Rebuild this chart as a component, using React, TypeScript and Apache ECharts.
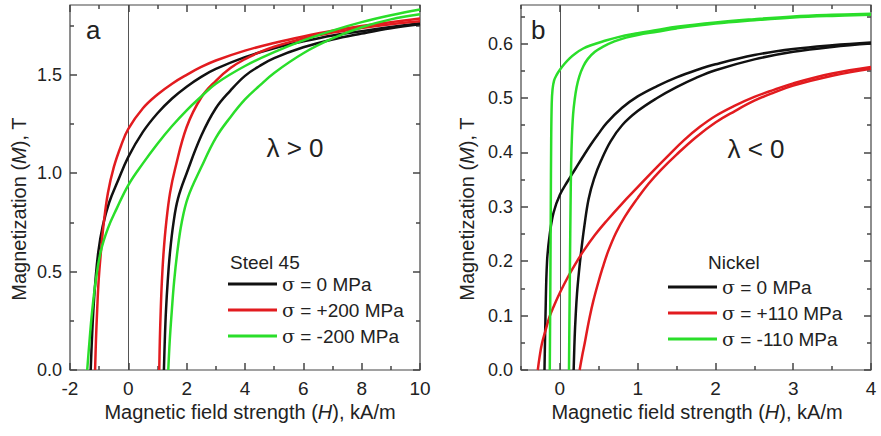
import React, { useEffect, useRef } from "react";
import * as echarts from "echarts";

// ---- Panel a: Steel 45 — [H (kA/m), M (T)]; "Desc" = descending branch, "Asc" = ascending branch
const steelZeroDesc: number[][] = [
  [-1.29, 0], [-1.25, 0.15], [-1.2, 0.3], [-1.13, 0.45], [-1.03, 0.6], [-0.88, 0.73], [-0.66, 0.85],
  [-0.36, 0.96], [0, 1.083], [0.5, 1.21], [1.0, 1.305], [1.5, 1.38], [2.0, 1.44], [2.5, 1.49], [3.0, 1.53],
  [4.0, 1.59], [5.0, 1.635], [6.0, 1.67], [7.0, 1.7], [8.0, 1.722], [9.0, 1.743], [10, 1.762],
];
const steelZeroAsc: number[][] = [
  [1.22, 0], [1.25, 0.15], [1.29, 0.3], [1.35, 0.45], [1.43, 0.6], [1.55, 0.75], [1.7, 0.87], [2.0, 1.0],
  [2.5, 1.19], [3.0, 1.33], [3.5, 1.42], [4.0, 1.495], [4.5, 1.545], [5.0, 1.585], [6.0, 1.64], [7.0, 1.68],
  [8.0, 1.71], [9.0, 1.737], [10, 1.757],
];
const steelPlus200Desc: number[][] = [
  [-1.14, 0], [-1.11, 0.15], [-1.07, 0.3], [-1.02, 0.45], [-0.94, 0.6], [-0.84, 0.75], [-0.7, 0.9],
  [-0.5, 1.03], [-0.25, 1.14], [0, 1.225], [0.5, 1.33], [1.0, 1.4], [1.5, 1.455], [2.0, 1.5], [2.5, 1.54],
  [3.0, 1.573], [4.0, 1.623], [5.0, 1.662], [6.0, 1.695], [7.0, 1.724], [8.0, 1.748], [9.0, 1.768], [10, 1.786],
];
const steelPlus200Asc: number[][] = [
  [1.06, 0], [1.08, 0.15], [1.11, 0.3], [1.15, 0.45], [1.21, 0.6], [1.3, 0.75], [1.43, 0.9], [1.6, 1.02],
  [2.0, 1.235], [2.5, 1.385], [3.0, 1.47], [3.5, 1.535], [4.0, 1.58], [4.5, 1.615], [5.0, 1.643], [6.0, 1.685],
  [7.0, 1.715], [8.0, 1.738], [9.0, 1.757], [10, 1.772],
];
const steelMinus200Desc: number[][] = [
  [-1.41, 0], [-1.33, 0.15], [-1.24, 0.3], [-1.12, 0.45], [-0.95, 0.6], [-0.7, 0.72], [-0.4, 0.82], [0, 0.94],
  [0.5, 1.05], [1.0, 1.15], [1.5, 1.24], [2.0, 1.32], [2.5, 1.39], [3.0, 1.455], [4.0, 1.545], [5.0, 1.615],
  [6.0, 1.675], [7.0, 1.725], [8.0, 1.768], [9.0, 1.803], [10, 1.832],
];
const steelMinus200Asc: number[][] = [
  [1.37, 0], [1.42, 0.15], [1.49, 0.3], [1.57, 0.45], [1.68, 0.6], [1.83, 0.75], [2.05, 0.88], [2.5, 1.03],
  [3.0, 1.18], [3.5, 1.285], [4.0, 1.375], [4.5, 1.445], [5.0, 1.51], [6.0, 1.61], [7.0, 1.685], [8.0, 1.742],
  [9.0, 1.782], [10, 1.808],
];

// ---- Panel b: Nickel
const nickelZeroDesc: number[][] = [
  [-0.198, 0], [-0.185, 0.1], [-0.165, 0.2], [-0.13, 0.25], [-0.08, 0.29], [0, 0.322], [0.1, 0.347],
  [0.2, 0.37], [0.3, 0.393], [0.4, 0.415], [0.5, 0.435], [0.6, 0.454], [0.8, 0.482], [1.0, 0.503],
  [1.25, 0.522], [1.5, 0.538], [1.75, 0.551], [2.0, 0.562], [2.5, 0.579], [3.0, 0.59], [3.5, 0.597], [4, 0.602],
];
const nickelZeroAsc: number[][] = [
  [0.177, 0], [0.19, 0.06], [0.203, 0.1], [0.22, 0.14], [0.245, 0.18], [0.276, 0.221], [0.315, 0.265],
  [0.37, 0.315], [0.44, 0.352], [0.53, 0.385], [0.65, 0.42], [0.8, 0.45], [1.0, 0.476], [1.25, 0.5],
  [1.5, 0.52], [1.75, 0.537], [2.0, 0.551], [2.5, 0.571], [3.0, 0.585], [3.5, 0.594], [4, 0.6],
];
const nickelPlus110Desc: number[][] = [
  [-0.284, 0], [-0.26, 0.025], [-0.23, 0.049], [-0.18, 0.075], [-0.133, 0.098], [-0.07, 0.12], [0, 0.142],
  [0.1, 0.17], [0.2, 0.195], [0.3, 0.218], [0.45, 0.248], [0.6, 0.274], [0.8, 0.306], [1.0, 0.336],
  [1.2, 0.366], [1.4, 0.395], [1.6, 0.423], [1.8, 0.447], [2.0, 0.467], [2.25, 0.486], [2.5, 0.502],
  [2.75, 0.515], [3.0, 0.527], [3.5, 0.545], [4, 0.557],
];
const nickelPlus110Asc: number[][] = [
  [0.254, 0], [0.285, 0.025], [0.319, 0.049], [0.35, 0.073], [0.384, 0.098], [0.43, 0.127], [0.49, 0.159],
  [0.55, 0.188], [0.62, 0.218], [0.72, 0.252], [0.836, 0.282], [1.0, 0.316], [1.137, 0.342], [1.3, 0.368],
  [1.5, 0.396], [1.75, 0.428], [2.0, 0.455], [2.25, 0.476], [2.5, 0.495], [2.75, 0.51], [3.0, 0.523],
  [3.5, 0.541], [4, 0.554],
];
const nickelMinus110Desc: number[][] = [
  [-0.13, 0], [-0.123, 0.15], [-0.117, 0.3], [-0.112, 0.42], [-0.105, 0.49], [-0.095, 0.515], [-0.075, 0.532],
  [-0.04, 0.543], [0, 0.552], [0.06, 0.563], [0.125, 0.573], [0.2, 0.582], [0.3, 0.591], [0.4, 0.597],
  [0.55, 0.604], [0.75, 0.612], [1.0, 0.619], [1.25, 0.625], [1.5, 0.631], [2.0, 0.639], [2.5, 0.645],
  [3.0, 0.65], [3.5, 0.653], [4, 0.655],
];
const nickelMinus110Asc: number[][] = [
  [0.117, 0], [0.123, 0.1], [0.13, 0.2], [0.137, 0.3], [0.145, 0.38], [0.155, 0.43], [0.17, 0.47],
  [0.19, 0.497], [0.215, 0.52], [0.25, 0.54], [0.3, 0.558], [0.36, 0.572], [0.45, 0.585], [0.55, 0.594],
  [0.7, 0.604], [0.85, 0.611], [1.0, 0.616], [1.25, 0.622], [1.5, 0.628], [2.0, 0.637], [2.5, 0.643],
  [3.0, 0.648], [3.5, 0.651], [4, 0.653],
];

const steelNames = ["σ = 0 MPa", "σ = +200 MPa", "σ = -200 MPa"];
const nickelNames = ["σ = 0 MPa", "σ = +110 MPa", "σ = -110 MPa"];

// ---- Tick values (major ticks carry labels)
const steelXTicks = [-2, 0, 2, 4, 6, 8, 10];
const steelXMinor = [-1, 1, 3, 5, 7, 9];
const steelYTicks = [0, 0.5, 1.0, 1.5];
const steelYMinor = [0.25, 0.75, 1.25, 1.75];
const nickelXTicks = [0, 1, 2, 3, 4];
const nickelXMinor = [-0.5, 0.5, 1.5, 2.5, 3.5];
const nickelYTicks = [0, 0.1, 0.2, 0.3, 0.4, 0.5, 0.6];
const nickelYMinor = [0.05, 0.15, 0.25, 0.35, 0.45, 0.55, 0.65];

const FONT = "'Liberation Sans', Arial, Helvetica, sans-serif";
const TEXT = "#222";
const AXIS = "#444";
const BLACK = "#111111";
const RED = "#e21b1f";
const GREEN = "#2ade2a";

const GRID_W = 350;
const GRID_H = 365;
const RANGES = [
  { xMin: -2, xMax: 10, yMin: 0, yMax: 1.855 },
  { xMin: -0.5, xMax: 4, yMin: 0, yMax: 0.671 },
];
const TICKS = [
  { xMajor: steelXTicks, xMinor: steelXMinor, yMajor: steelYTicks, yMinor: steelYMinor },
  { xMajor: nickelXTicks, xMinor: nickelXMinor, yMajor: nickelYTicks, yMinor: nickelYMinor },
];

function xAxisFor(panel: number, labels: number[], fmt: (v: number) => string) {
  const r = RANGES[panel];
  return {
    type: "value",
    gridIndex: panel,
    min: r.xMin,
    max: r.xMax,
    position: "bottom",
    splitLine: { show: false },
    axisLine: { show: false },
    axisTick: { show: false },
    axisLabel: {
      show: true,
      customValues: labels.slice(),
      formatter: fmt,
      fontSize: 19,
      color: TEXT,
      fontFamily: FONT,
      margin: 9,
    },
  };
}
function yAxisFor(panel: number, labels: number[], fmt: (v: number) => string) {
  const r = RANGES[panel];
  return {
    type: "value",
    gridIndex: panel,
    min: r.yMin,
    max: r.yMax,
    position: "left",
    splitLine: { show: false },
    axisLine: { show: false },
    axisTick: { show: false },
    axisLabel: {
      show: true,
      customValues: labels.slice(),
      formatter: fmt,
      fontSize: 18,
      color: TEXT,
      fontFamily: FONT,
      margin: 8,
    },
  };
}

// Inward tick segments on all four sides, expressed in data coordinates of the panel's axes
function tickSegments(panel: number) {
  const r = RANGES[panel];
  const t = TICKS[panel];
  const dyPerPx = (r.yMax - r.yMin) / GRID_H;
  const dxPerPx = (r.xMax - r.xMin) / GRID_W;
  const segs: any[] = [];
  const addX = (vals: number[], len: number) =>
    vals.forEach((v) => {
      segs.push([{ coord: [v, r.yMin] }, { coord: [v, r.yMin + len * dyPerPx] }]);
      segs.push([{ coord: [v, r.yMax] }, { coord: [v, r.yMax - len * dyPerPx] }]);
    });
  const addY = (vals: number[], len: number) =>
    vals.forEach((v) => {
      segs.push([{ coord: [r.xMin, v] }, { coord: [r.xMin + len * dxPerPx, v] }]);
      segs.push([{ coord: [r.xMax, v] }, { coord: [r.xMax - len * dxPerPx, v] }]);
    });
  addX(t.xMajor, 7);
  addX(t.xMinor, 4);
  addY(t.yMajor, 7);
  addY(t.yMinor, 4);
  return segs;
}

function curve(name: string, data: number[][], color: string, panel: number, withMarks: boolean) {
  const s: any = {
    type: "line",
    name,
    data,
    xAxisIndex: panel,
    yAxisIndex: panel,
    showSymbol: false,
    symbol: "none",
    smooth: 0.4,
    color,
    lineStyle: { color, width: 2.5 },
    emphasis: { disabled: true },
    z: 3,
  };
  if (withMarks) {
    const ticks = tickSegments(panel).map((seg) =>
      seg.map((p: any) => ({ ...p, lineStyle: { color: AXIS, width: 1.5, type: "solid" } }))
    );
    s.markLine = {
      silent: true,
      symbol: "none",
      precision: 6,
      label: { show: false },
      lineStyle: { color: "#555", width: 1, type: "solid" },
      emphasis: { disabled: true },
      data: [{ xAxis: 0 }, ...ticks],
      z: 1,
    };
  }
  return s;
}

const fmtInt = (v: number) => String(Math.round(v));
const fmt1 = (v: number) => v.toFixed(1);

function legendFor(names: string[], left: number, top: number) {
  return {
    orient: "vertical",
    left,
    top,
    itemWidth: 49,
    itemHeight: 3,
    itemGap: 6,
    icon: "rect",
    selectedMode: false,
    data: names,
    formatter: (n: string) => n.replace("σ", "{s|σ}"),
    textStyle: {
      fontSize: 19,
      color: TEXT,
      fontFamily: FONT,
      lineHeight: 20,
      rich: {
        s: { fontFamily: "'DejaVu Serif', 'Liberation Serif', serif", fontSize: 19, lineHeight: 20, color: TEXT },
      },
    },
  };
}

function text(x: number, y: number, t: string, size: number, align: string, extra: any = {}) {
  return {
    type: "text",
    x,
    y,
    silent: true,
    ...extra,
    style: {
      text: t,
      fontSize: size,
      fontFamily: FONT,
      fill: TEXT,
      align,
      verticalAlign: "middle",
      rich: { i: { fontStyle: "italic", fontSize: size, fontFamily: FONT, fill: TEXT } },
    },
  };
}

export default function App() {
  const ref = useRef<HTMLDivElement>(null);
  useEffect(() => {
    if (!ref.current) return;
    const chart = echarts.init(ref.current, undefined, { renderer: "svg" });
    const gridBase = {
      top: 5,
      width: GRID_W,
      height: GRID_H,
      containLabel: false,
      show: true,
      borderColor: AXIS,
      borderWidth: 1.2,
      backgroundColor: "transparent",
    };
    const option: any = {
      animation: false,
      backgroundColor: "#ffffff",
      grid: [
        { ...gridBase, left: 70 },
        { ...gridBase, left: 521 },
      ],
      xAxis: [xAxisFor(0, steelXTicks, fmtInt), xAxisFor(1, nickelXTicks, fmtInt)],
      yAxis: [yAxisFor(0, steelYTicks, fmt1), yAxisFor(1, nickelYTicks, fmt1)],
      legend: [legendFor(steelNames, 223, 269), legendFor(nickelNames, 663, 272)],
      series: [
        curve(steelNames[0], steelZeroDesc, BLACK, 0, true),
        curve(steelNames[0], steelZeroAsc, BLACK, 0, false),
        curve(steelNames[1], steelPlus200Desc, RED, 0, false),
        curve(steelNames[1], steelPlus200Asc, RED, 0, false),
        curve(steelNames[2], steelMinus200Desc, GREEN, 0, false),
        curve(steelNames[2], steelMinus200Asc, GREEN, 0, false),
        curve(nickelNames[0], nickelZeroDesc, BLACK, 1, true),
        curve(nickelNames[0], nickelZeroAsc, BLACK, 1, false),
        curve(nickelNames[1], nickelPlus110Desc, RED, 1, false),
        curve(nickelNames[1], nickelPlus110Asc, RED, 1, false),
        curve(nickelNames[2], nickelMinus110Desc, GREEN, 1, false),
        curve(nickelNames[2], nickelMinus110Asc, GREEN, 1, false),
      ],
      graphic: [
        text(86, 30, "a", 26, "left"),
        text(531, 30, "b", 26, "left"),
        text(295, 148, "λ > 0", 26, "center"),
        text(756, 149, "λ < 0", 26, "center"),
        text(230, 262, "Steel 45", 19, "left"),
        text(708, 262, "Nickel", 19, "left"),
        text(250, 412, "Magnetic field strength ({i|H}), kA/m", 20, "center"),
        text(697, 412, "Magnetic field strength ({i|H}), kA/m", 20, "center"),
        text(19, 209, "Magnetization ({i|M}), T", 20, "center", { rotation: Math.PI / 2 }),
        text(467, 209, "Magnetization ({i|M}), T", 20, "center", { rotation: Math.PI / 2 }),
      ],
    };
    chart.setOption(option);
    return () => chart.dispose();
  }, []);
  return (
    <div
      ref={ref}
      style={{ position: "fixed", left: 0, top: 0, width: 881, height: 436, background: "#fff" }}
    />
  );
}
